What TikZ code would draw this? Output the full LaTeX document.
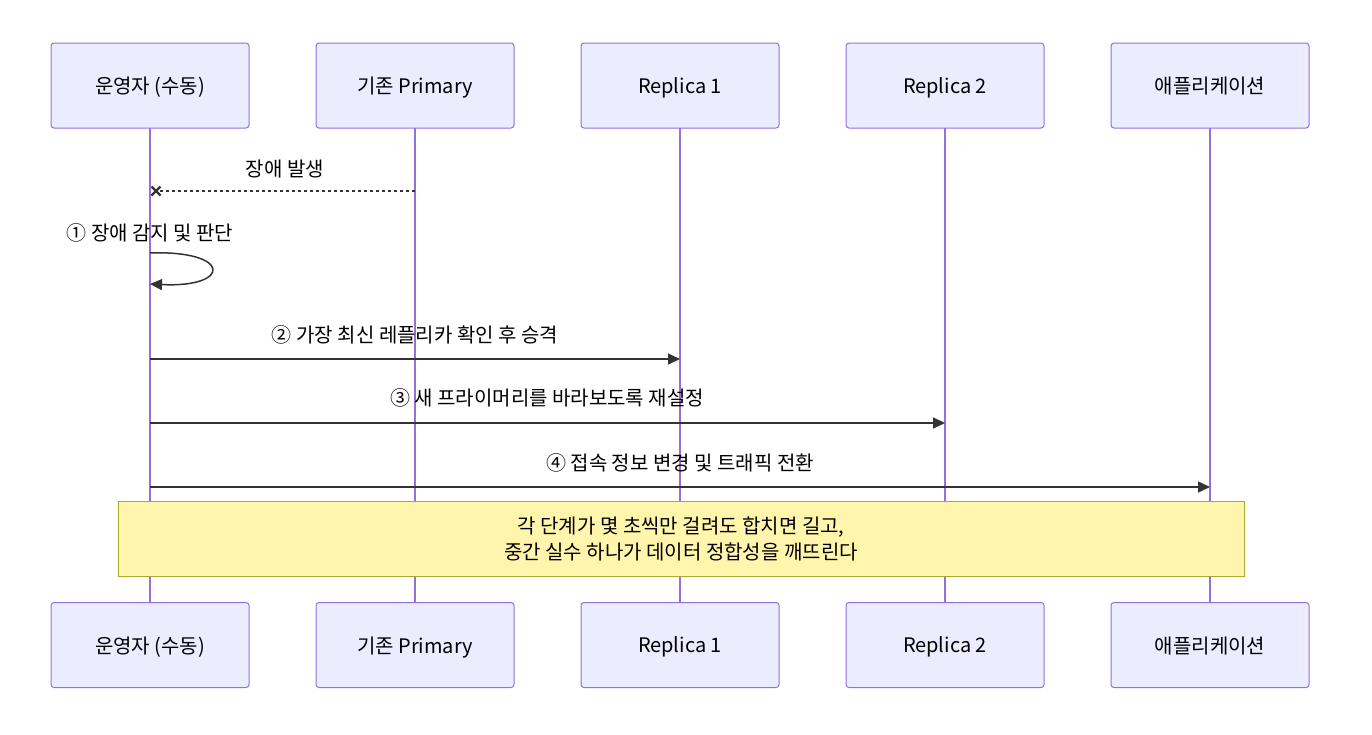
\documentclass[tikz,border=0pt]{standalone}
\usepackage{fontspec}
\setmainfont{Noto Sans CJK KR}
\usetikzlibrary{arrows.meta,calc}
\definecolor{actfill}{HTML}{ECECFF}
\definecolor{actline}{HTML}{9370DB}
\definecolor{notefill}{HTML}{FFF5AD}
\definecolor{noteline}{HTML}{AAAA33}
\definecolor{msg}{HTML}{333333}
\begin{document}
\begin{tikzpicture}[x=1pt,y=-1pt,
  actor/.style={draw=actline,fill=actfill,line width=1pt,rounded corners=3pt,minimum width=198pt,minimum height=85pt,inner sep=0pt,text depth=0pt,font=\fontsize{20}{24}\selectfont},
  life/.style={draw=actline,line width=2pt},
  msgline/.style={draw=msg,line width=1.5pt,-{Triangle[length=12pt,width=11pt]}},
  lbl/.style={font=\fontsize{20}{24}\selectfont,text=black,inner sep=0pt}]
\useasboundingbox (0,0) rectangle (1372,734);
% lifelines
\foreach \n/\x in {a/150,b/415,c/680,d/945,e/1210}{
  \coordinate (\n t) at (\x,128);
  \coordinate (\n b) at (\x,602);
  \draw[life] (\n t) -- (\n b);
}
% actors
\node[actor] (a1) at (150,85.5) {운영자 (수동)};
\node[actor] (b1) at (415,85.5) {기존 Primary};
\node[actor] (c1) at (680,85.5) {Replica 1};
\node[actor] (d1) at (945,85.5) {Replica 2};
\node[actor] (e1) at (1210,85.5) {애플리케이션};
\node[actor] (a2) at (150,645) {운영자 (수동)};
\node[actor] (b2) at (415,645) {기존 Primary};
\node[actor] (c2) at (680,645) {Replica 1};
\node[actor] (d2) at (945,645) {Replica 2};
\node[actor] (e2) at (1210,645) {애플리케이션};
% message 1: failure
\coordinate (m1s) at (415,191);
\coordinate (m1e) at (156,191);
\draw[msg,line width=1.5pt,dash pattern=on 3pt off 3pt] (m1s) -- (m1e);
\coordinate (x1) at (156,191);
\draw[msg,line width=2.2pt] ($(x1)+(-4.5,-4.5)$) -- ($(x1)+(4.5,4.5)$);
\draw[msg,line width=2.2pt] ($(x1)+(-4.5,4.5)$) -- ($(x1)+(4.5,-4.5)$);
\node[lbl] (l1) at (285,169) {장애 발생};
% self loop
\coordinate (s1) at (150,253);
\coordinate (s2) at (150,284);
\draw[msgline] (s1) .. controls (232,250) and (232,288) .. (s2);
\node[lbl] (l2) at (150,233) {① 장애 감지 및 판단};
% message 3
\coordinate (m3s) at (150,359);
\coordinate (m3e) at (680,359);
\draw[msgline] (m3s) -- (m3e);
\node[lbl] (l3) at (415,335) {② 가장 최신 레플리카 확인 후 승격};
% message 4
\coordinate (m4s) at (150,423);
\coordinate (m4e) at (945,423);
\draw[msgline] (m4s) -- (m4e);
\node[lbl] (l4) at (547,398) {③ 새 프라이머리를 바라보도록 재설정};
% message 5
\coordinate (m5s) at (150,487);
\coordinate (m5e) at (1210,487);
\draw[msgline] (m5s) -- (m5e);
\node[lbl] (l5) at (680,463) {④ 접속 정보 변경 및 트래픽 전환};
% note
\node[draw=noteline,fill=notefill,line width=1pt,minimum width=1126pt,minimum height=75pt,inner sep=0pt,align=center,font=\fontsize{20}{26}\selectfont] (note) at (681,538.5) {각 단계가 몇 초씩만 걸려도 합치면 길고,\\중간 실수 하나가 데이터 정합성을 깨뜨린다};
\end{tikzpicture}
\end{document}
